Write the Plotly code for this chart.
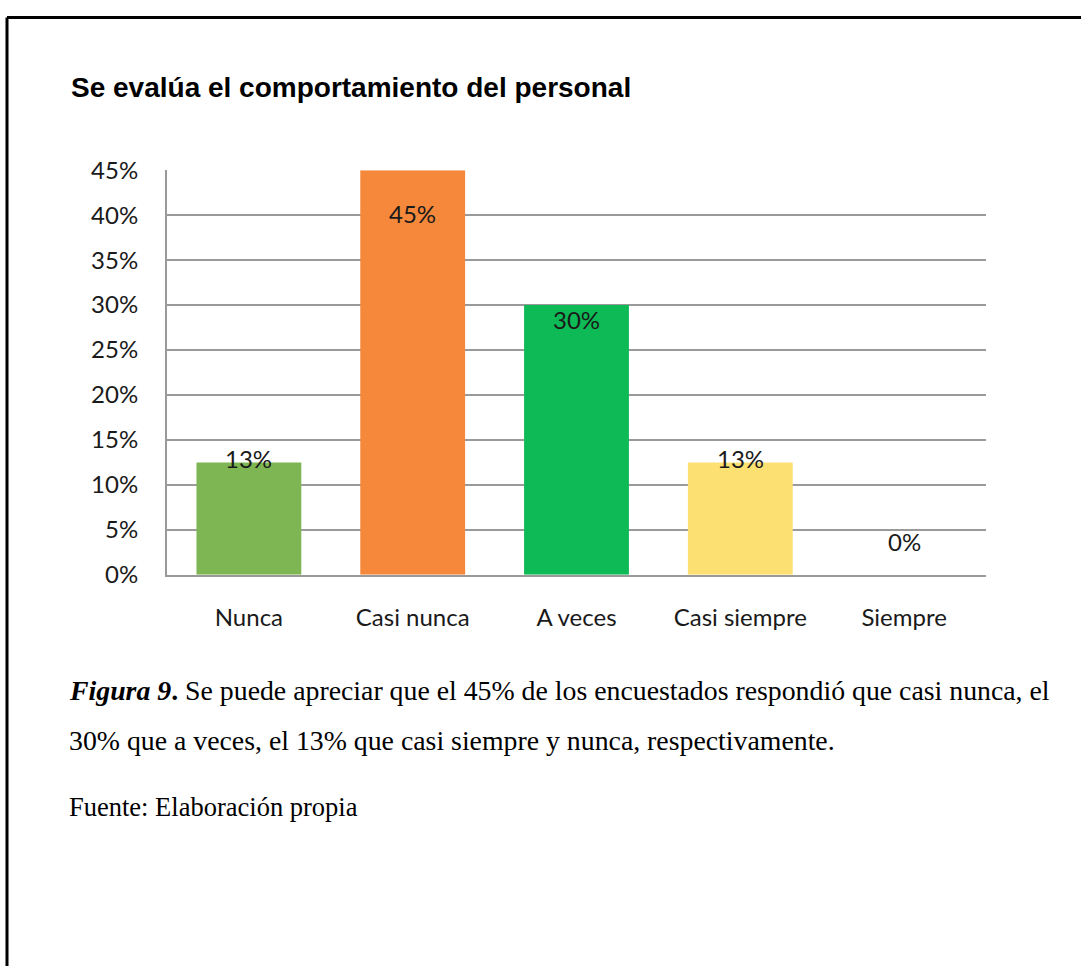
import plotly.graph_objects as go

# ---- data ----
categories = ["Nunca", "Casi nunca", "A veces", "Casi siempre", "Siempre"]
values = [0.125, 0.45, 0.30, 0.125, 0.0]
value_labels = ["13%", "45%", "30%", "13%", "0%"]
bar_colors = ["#7DB653", "#F5883B", "#0DBA55", "#FDE072", "#4F81BD"]
label_shift_px = [4, -43, -14, 4, 33]

title_text = "<b>Se evalúa el comportamiento del personal</b>"
caption_1 = "<b><i>Figura 9</i>.</b> Se puede apreciar que el 45% de los encuestados respondió que casi nunca, el"
caption_2 = "30% que a veces, el 13% que casi siempre y nunca, respectivamente."
source_text = "Fuente: Elaboración propia"

W, H = 1081, 979
# vertical placement correction (observed render offset/scale)
OFF, SC = 16.0, 0.969

def px_x(x):
    return x / W
def px_y(y):
    v = 1 - ((y - OFF) / SC) / H
    return min(1.0, max(0.0, v))

fig = go.Figure()
fig.add_trace(go.Bar(
    x=categories, y=values,
    marker=dict(color=bar_colors, line=dict(width=0)),
    width=0.64,
    hoverinfo="skip",
))

annotations = []
for c, v, t, s in zip(categories, values, value_labels, label_shift_px):
    annotations.append(dict(
        x=c, y=v, xref="x", yref="y", text=t, showarrow=False,
        yshift=s, yanchor="middle", xanchor="center",
        font=dict(family="Lato", size=24, color="#1a1a1a"),
    ))

annotations += [
    dict(x=px_x(69), y=px_y(87), xref="paper", yref="paper", text=title_text,
         showarrow=False, xanchor="left", yanchor="middle",
         font=dict(family="Liberation Sans", size=28, color="#000000")),
    dict(x=px_x(67), y=px_y(690), xref="paper", yref="paper", text=caption_1,
         showarrow=False, xanchor="left", yanchor="middle",
         font=dict(family="Liberation Serif", size=27.8, color="#000000")),
    dict(x=px_x(67), y=px_y(739), xref="paper", yref="paper", text=caption_2,
         showarrow=False, xanchor="left", yanchor="middle",
         font=dict(family="Liberation Serif", size=27.8, color="#000000")),
    dict(x=px_x(67), y=px_y(806), xref="paper", yref="paper", text=source_text,
         showarrow=False, xanchor="left", yanchor="middle",
         font=dict(family="Liberation Serif", size=26.5, color="#000000")),
]

shapes = [
    dict(type="line", xref="paper", yref="paper", x0=px_x(7), x1=1.0, y0=0.9985, y1=0.9985,
         line=dict(color="#000000", width=3)),
    dict(type="line", xref="paper", yref="paper", x0=px_x(7), x1=px_x(7), y0=0.9985, y1=0,
         line=dict(color="#000000", width=3)),
]

fig.update_layout(
    width=W, height=H,
    margin=dict(l=0, r=0, t=0, b=0),
    paper_bgcolor="white", plot_bgcolor="white",
    showlegend=False,
    annotations=annotations,
    shapes=shapes,
    bargap=0.36,
    font=dict(family="Lato", size=24, color="#1a1a1a"),
)
fig.update_xaxes(
    domain=[px_x(167), px_x(986)],
    showline=True, linecolor="#9A9A9A", linewidth=2,
    ticks="", ticklabelstandoff=20,
    tickfont=dict(family="Lato", size=24, color="#1a1a1a"),
    showgrid=False, fixedrange=True,
)
fig.update_yaxes(
    domain=[px_y(574), px_y(170)],
    range=[0, 0.45], dtick=0.05, tickformat=".0%",
    showgrid=True, gridcolor="#9A9A9A", gridwidth=2,
    showline=True, linecolor="#9A9A9A", linewidth=2,
    zeroline=False,
    ticks="", ticklabelstandoff=22,
    tickfont=dict(family="Lato", size=24, color="#1a1a1a"),
    fixedrange=True,
)

fig.write_html("out.html")
